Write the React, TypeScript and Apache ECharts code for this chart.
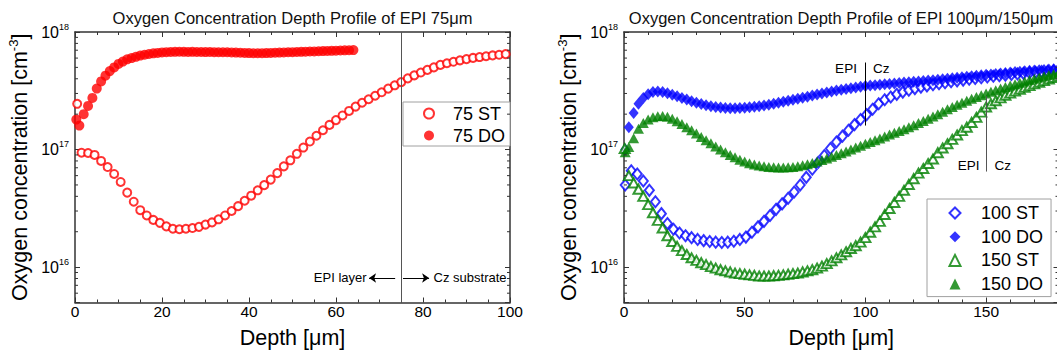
import { useEffect, useRef } from 'react';
import * as echarts from 'echarts';

const FONT = "'Liberation Sans', Arial, sans-serif";
const RED = '#ff0000';
const BLUE = '#0000ff';
const GREEN = '#008000';
const AXIS = '#333333';

const TITLE_LEFT = 'Oxygen Concentration Depth Profile of EPI 75μm';
const TITLE_RIGHT = 'Oxygen Concentration Depth Profile of EPI 100μm/150μm';
const X_NAME = 'Depth [μm]';
const Y_NAME = '{a|Oxygen concentration [cm}{s|-3}{a|]}';
const LEGEND_LEFT = ['75 ST', '75 DO'];
const LEGEND_RIGHT = ['100 ST', '100 DO', '150 ST', '150 DO'];

const Y_MIN = 5e15;
const Y_MAX = 1e18;
const X_LEFT_MAX = 100;
const X_RIGHT_MAX = 180;
const MINOR_TICKS = [
  6e15, 7e15, 8e15, 9e15,
  2e16, 3e16, 4e16, 5e16, 6e16, 7e16, 8e16, 9e16,
  2e17, 3e17, 4e17, 5e17, 6e17, 7e17, 8e17, 9e17,
];

// ---- 75 µm EPI (depth µm, concentration cm^-3)
const ST75: [number, number][] = [
  [0.5, 2.45e17], [1.5, 9.4e16], [3, 9.35e16], [4.5, 9.0e16], [6, 8.0e16], [7.5, 7.1e16],
  [9, 6.2e16], [10.5, 5.3e16], [12, 4.3e16], [13.5, 3.6e16], [15, 3.05e16], [16.5, 2.75e16],
  [18, 2.52e16], [19.5, 2.38e16], [21, 2.22e16], [22.5, 2.12e16], [24, 2.1e16], [25.5, 2.12e16],
  [27, 2.15e16], [28.5, 2.2e16], [30, 2.3e16], [31.5, 2.4e16], [33, 2.55e16], [34.5, 2.75e16],
  [36, 3.0e16], [37.5, 3.3e16], [39, 3.67e16], [40.5, 4.05e16], [42, 4.5e16], [43.5, 4.98e16],
  [45, 5.55e16], [46.5, 6.3e16], [48, 7.2e16], [49.5, 8.1e16], [51, 9.2e16], [52.5, 1.04e17],
  [54, 1.17e17], [55.5, 1.31e17], [57, 1.46e17], [58.5, 1.62e17], [60, 1.78e17], [61.5, 1.95e17],
  [63, 2.13e17], [64.5, 2.32e17], [66, 2.5e17], [67.5, 2.68e17], [69, 2.87e17], [70.5, 3.07e17],
  [72, 3.3e17], [73.5, 3.52e17], [75, 3.75e17], [76.5, 4.03e17], [78, 4.28e17], [79.5, 4.52e17],
  [81, 4.76e17], [82.5, 5.0e17], [84, 5.25e17], [85.5, 5.42e17], [87, 5.58e17], [88.5, 5.74e17],
  [90, 5.88e17], [91.5, 6.02e17], [93, 6.12e17], [94.5, 6.22e17], [96, 6.32e17], [97.5, 6.4e17],
  [99, 6.48e17],
];
const DO75: [number, number][] = [
  [0.3, 1.8e17], [1, 1.6e17], [2, 2.0e17], [3, 2.35e17], [4, 2.75e17], [5, 3.3e17], [6, 3.8e17],
  [7, 4.25e17], [8, 4.65e17], [9, 5.0e17], [10, 5.35e17], [11, 5.6e17], [12, 5.85e17], [13, 6.0e17],
  [14, 6.15e17], [15, 6.3e17], [16, 6.4e17], [17, 6.5e17], [18, 6.58e17], [19, 6.64e17], [20, 6.7e17],
  [21, 6.74e17], [22, 6.76e17], [23, 6.78e17], [24, 6.79e17], [25, 6.78e17], [26, 6.77e17],
  [27, 6.78e17], [28, 6.76e17], [29, 6.76e17], [30, 6.75e17], [31, 6.76e17], [32, 6.74e17],
  [33, 6.73e17], [34, 6.72e17], [35, 6.72e17], [36, 6.7e17], [37, 6.68e17], [38, 6.66e17],
  [39, 6.64e17], [40, 6.62e17], [41, 6.6e17], [42, 6.6e17], [43, 6.61e17], [44, 6.62e17],
  [45, 6.64e17], [46, 6.66e17], [47, 6.68e17], [48, 6.7e17], [49, 6.72e17], [50, 6.74e17],
  [51, 6.76e17], [52, 6.78e17], [53, 6.8e17], [54, 6.82e17], [55, 6.84e17], [56, 6.86e17],
  [57, 6.88e17], [58, 6.9e17], [59, 6.92e17], [60, 6.94e17], [61, 6.96e17], [62, 6.98e17],
  [63, 7.0e17], [64, 7.02e17],
];

// ---- 100 µm / 150 µm EPI
const ST100: [number, number][] = [
  [0.5, 5.0e16], [3, 6.6e16], [5.5, 6.2e16], [8, 5.4e16], [10.5, 4.5e16], [13, 3.6e16],
  [15.5, 2.85e16], [18, 2.35e16], [20.5, 2.1e16], [23, 1.95e16], [25.5, 1.85e16], [28, 1.78e16],
  [30.5, 1.72e16], [33, 1.68e16], [35.5, 1.65e16], [38, 1.63e16], [40.5, 1.62e16], [43, 1.63e16],
  [45.5, 1.66e16], [48, 1.72e16], [50.5, 1.8e16], [53, 1.98e16], [55.5, 2.2e16], [58, 2.45e16],
  [60.5, 2.75e16], [63, 3.1e16], [65.5, 3.45e16], [68, 3.85e16], [70.5, 4.35e16], [73, 5.0e16],
  [75.5, 5.8e16], [78, 6.8e16], [80.5, 7.8e16], [83, 8.9e16], [85.5, 1.02e17], [88, 1.16e17],
  [90.5, 1.3e17], [93, 1.46e17], [95.5, 1.63e17], [98, 1.8e17], [100.5, 1.98e17], [103, 2.2e17],
  [105.5, 2.45e17], [108, 2.65e17], [110.5, 2.8e17], [113, 2.95e17], [115.5, 3.08e17],
  [118, 3.2e17], [120.5, 3.3e17], [123, 3.4e17], [125.5, 3.48e17], [128, 3.56e17],
  [130.5, 3.63e17], [133, 3.7e17], [135.5, 3.77e17], [138, 3.84e17], [140.5, 3.9e17],
  [143, 3.96e17], [145.5, 4.02e17], [148, 4.08e17], [150.5, 4.14e17], [153, 4.2e17],
  [155.5, 4.25e17], [158, 4.3e17], [160.5, 4.35e17], [163, 4.4e17], [165.5, 4.45e17],
  [168, 4.5e17], [170.5, 4.55e17], [173, 4.6e17], [175.5, 4.64e17], [178, 4.68e17],
];
const DO100: [number, number][] = [
  [0.5, 1.0e17], [2, 1.55e17], [4, 2.05e17], [6, 2.45e17], [8, 2.75e17], [10, 2.95e17],
  [12, 3.08e17], [14, 3.12e17], [16, 3.08e17], [18, 3.02e17], [20, 2.93e17], [22, 2.84e17],
  [24, 2.75e17], [26, 2.66e17], [28, 2.58e17], [30, 2.5e17], [32, 2.44e17], [34, 2.38e17],
  [36, 2.34e17], [38, 2.3e17], [40, 2.28e17], [42, 2.26e17], [44, 2.25e17], [46, 2.25e17],
  [48, 2.26e17], [50, 2.27e17], [52, 2.29e17], [54, 2.31e17], [56, 2.34e17], [58, 2.37e17],
  [60, 2.41e17], [62, 2.45e17], [64, 2.5e17], [66, 2.55e17], [68, 2.6e17], [70, 2.65e17],
  [72, 2.7e17], [74, 2.76e17], [76, 2.82e17], [78, 2.88e17], [80, 2.94e17], [82, 3.0e17],
  [84, 3.06e17], [86, 3.12e17], [88, 3.18e17], [90, 3.23e17], [92, 3.28e17], [94, 3.33e17],
  [96, 3.38e17], [98, 3.43e17], [100, 3.47e17], [102, 3.5e17], [104, 3.53e17], [106, 3.56e17],
  [108, 3.59e17], [110, 3.62e17], [112, 3.65e17], [114, 3.68e17], [116, 3.71e17], [118, 3.74e17],
  [120, 3.77e17], [122, 3.8e17], [124, 3.83e17], [126, 3.86e17], [128, 3.89e17], [130, 3.92e17],
  [132, 3.96e17], [134, 4.0e17], [136, 4.04e17], [138, 4.08e17], [140, 4.12e17], [142, 4.16e17],
  [144, 4.2e17], [146, 4.24e17], [148, 4.28e17], [150, 4.32e17], [152, 4.36e17], [154, 4.4e17],
  [156, 4.44e17], [158, 4.48e17], [160, 4.52e17], [162, 4.56e17], [164, 4.6e17], [166, 4.64e17],
  [168, 4.67e17], [170, 4.7e17], [172, 4.73e17], [174, 4.76e17], [176, 4.79e17], [178, 4.82e17],
  [180, 4.85e17],
];
const ST150: [number, number][] = [
  [0.3, 1.02e17], [2, 6.0e16], [4, 5.2e16], [6, 4.6e16], [8, 4.0e16], [10, 3.4e16], [12, 2.9e16],
  [14, 2.5e16], [16, 2.15e16], [18, 1.85e16], [20, 1.65e16], [22, 1.5e16], [24, 1.38e16],
  [26, 1.28e16], [28, 1.2e16], [30, 1.14e16], [32, 1.09e16], [34, 1.05e16], [36, 1.01e16],
  [38, 9.8e15], [40, 9.5e15], [42, 9.3e15], [44, 9.1e15], [46, 8.9e15], [48, 8.8e15], [50, 8.7e15],
  [52, 8.6e15], [54, 8.5e15], [56, 8.4e15], [58, 8.4e15], [60, 8.4e15], [62, 8.45e15], [64, 8.5e15],
  [66, 8.6e15], [68, 8.7e15], [70, 8.8e15], [72, 8.9e15], [74, 9.1e15], [76, 9.3e15], [78, 9.5e15],
  [80, 9.8e15], [82, 1.02e16], [84, 1.07e16], [86, 1.13e16], [88, 1.2e16], [90, 1.27e16],
  [92, 1.35e16], [94, 1.44e16], [96, 1.52e16], [98, 1.63e16], [100, 1.78e16], [102, 1.98e16],
  [104, 2.2e16], [106, 2.45e16], [108, 2.8e16], [110, 3.15e16], [112, 3.55e16], [114, 4.0e16],
  [116, 4.5e16], [118, 5.05e16], [120, 5.65e16], [122, 6.3e16], [124, 6.9e16], [126, 7.6e16],
  [128, 8.3e16], [130, 9.4e16], [132, 1.03e17], [134, 1.12e17], [136, 1.22e17], [138, 1.33e17],
  [140, 1.45e17], [142, 1.55e17], [144, 1.7e17], [146, 1.88e17], [148, 2.08e17], [150, 2.3e17],
  [152, 2.45e17], [154, 2.6e17], [156, 2.75e17], [158, 2.9e17], [160, 3.02e17], [162, 3.14e17],
  [164, 3.26e17], [166, 3.38e17], [168, 3.5e17], [170, 3.62e17], [172, 3.74e17], [174, 3.86e17],
  [176, 3.98e17], [178, 4.1e17], [180, 4.25e17],
];
const DO150: [number, number][] = [
  [0.5, 9.5e16], [2, 1.05e17], [4, 1.25e17], [6, 1.5e17], [8, 1.68e17], [10, 1.8e17], [12, 1.88e17],
  [14, 1.92e17], [16, 1.93e17], [18, 1.9e17], [20, 1.83e17], [22, 1.74e17], [24, 1.65e17],
  [26, 1.55e17], [28, 1.46e17], [30, 1.37e17], [32, 1.28e17], [34, 1.2e17], [36, 1.13e17],
  [38, 1.06e17], [40, 1.0e17], [42, 9.5e16], [44, 9.0e16], [46, 8.6e16], [48, 8.2e16], [50, 7.9e16],
  [52, 7.65e16], [54, 7.45e16], [56, 7.3e16], [58, 7.2e16], [60, 7.12e16], [62, 7.08e16],
  [64, 7.05e16], [66, 7.05e16], [68, 7.08e16], [70, 7.12e16], [72, 7.2e16], [74, 7.35e16],
  [76, 7.5e16], [78, 7.7e16], [80, 7.9e16], [82, 8.15e16], [84, 8.4e16], [86, 8.7e16], [88, 9.0e16],
  [90, 9.3e16], [92, 9.65e16], [94, 1.0e17], [96, 1.04e17], [98, 1.08e17], [100, 1.12e17],
  [102, 1.16e17], [104, 1.2e17], [106, 1.24e17], [108, 1.29e17], [110, 1.34e17], [112, 1.39e17],
  [114, 1.44e17], [116, 1.49e17], [118, 1.55e17], [120, 1.61e17], [122, 1.68e17], [124, 1.75e17],
  [126, 1.83e17], [128, 1.91e17], [130, 2.0e17], [132, 2.1e17], [134, 2.2e17], [136, 2.3e17],
  [138, 2.4e17], [140, 2.5e17], [142, 2.6e17], [144, 2.7e17], [146, 2.8e17], [148, 2.9e17],
  [150, 3.0e17], [152, 3.1e17], [154, 3.2e17], [156, 3.3e17], [158, 3.4e17], [160, 3.5e17],
  [162, 3.6e17], [164, 3.7e17], [166, 3.8e17], [168, 3.9e17], [170, 4.0e17], [172, 4.1e17],
  [174, 4.2e17], [176, 4.3e17], [178, 4.4e17], [180, 4.5e17],
];

// ---- annotations (data coordinates)
const EPI_BOUNDARY_75 = 75;
const ARROW_Y = 8.08e15;
const EPI_LAYER_ARROW: [number, number][] = [[73.6, ARROW_Y], [67.6, ARROW_Y]];
const CZ_ARROW: [number, number][] = [[75.4, ARROW_Y], [81.4, ARROW_Y]];
const BOUNDARY_100: [number, number][] = [[100, 1.6e17], [100, 5.5e17]];
const BOUNDARY_150: [number, number][] = [[150, 6.5e16], [150, 2.84e17]];
const LABEL_100_Y = 4.9e17;
const LABEL_150_Y = 7.3e16;

const logLabel = (v: number) => {
  const e = Math.log10(v);
  const r = Math.round(e);
  if (Math.abs(e - r) > 1e-6) return '';
  return `{b|10}{s|${r}}`;
};

const yLabelRich = {
  b: { fontSize: 16, lineHeight: 20, color: '#000', fontFamily: FONT },
  s: { fontSize: 9, verticalAlign: 'top', color: '#000', fontFamily: FONT },
};
const yNameStyle = {
  color: '#000',
  fontFamily: FONT,
  rich: {
    a: { fontSize: 21.5, lineHeight: 26, color: '#000', fontFamily: FONT },
    s: { fontSize: 13, verticalAlign: 'top', color: '#000', fontFamily: FONT },
  },
};

const axisLine = { show: true, onZero: false, lineStyle: { color: AXIS, width: 1.5 } };

function xAxisDef(grid: number, max: number, interval: number, opts: any) {
  return {
    type: 'value',
    gridIndex: grid,
    min: 0,
    max,
    interval,
    splitLine: { show: false },
    axisLine,
    axisTick: { show: true, inside: true, length: 5, lineStyle: { color: AXIS, width: 1 } },
    axisLabel: { show: false },
    ...opts,
  };
}

function yAxisDef(grid: number, position: 'left' | 'right', labelled: boolean) {
  return {
    type: 'log',
    logBase: 10,
    gridIndex: grid,
    position,
    min: Y_MIN,
    max: Y_MAX,
    splitLine: { show: false },
    axisLine,
    axisTick: { show: true, inside: true, length: 5, lineStyle: { color: AXIS, width: 1 } },
    axisLabel: labelled
      ? { show: true, margin: 6, formatter: logLabel, rich: yLabelRich }
      : { show: false },
    ...(labelled
      ? { name: Y_NAME, nameLocation: 'middle', nameGap: 42, nameRotate: 90, nameTextStyle: yNameStyle }
      : {}),
  };
}

function minorTickSeries(xAxisIndex: number, yAxisIndex: number, xMax: number) {
  return {
    type: 'custom',
    xAxisIndex,
    yAxisIndex,
    silent: true,
    clip: false,
    z: 10,
    data: MINOR_TICKS.map((v) => [0, v]),
    renderItem: (_p: any, api: any) => {
      const v = api.value(1);
      const a = api.coord([0, v]);
      const b = api.coord([xMax, v]);
      const style = { stroke: AXIS, lineWidth: 1 };
      return {
        type: 'group',
        children: [
          { type: 'line', shape: { x1: a[0], y1: a[1], x2: a[0] + 3, y2: a[1] }, style },
          { type: 'line', shape: { x1: b[0] - 3, y1: b[1], x2: b[0], y2: b[1] }, style },
        ],
      };
    },
  };
}

const textPoint = (name: string, coord: [number, number], position: string, distance: number, fontSize: number) => ({
  name,
  coord,
  label: { show: true, position, distance, formatter: name, color: '#000', fontSize, fontFamily: FONT },
});

export default function App() {
  const ref = useRef<HTMLDivElement>(null);

  useEffect(() => {
    if (!ref.current) return;
    const chart = echarts.init(ref.current, undefined, { renderer: 'svg' });

    const legendCommon = {
      orient: 'vertical',
      selectedMode: false,
      borderColor: '#a0a0a0',
      borderWidth: 1,
      borderRadius: 0,
      backgroundColor: '#fff',
    };

    const option: any = {
      animation: false,
      backgroundColor: '#fff',
      textStyle: { fontFamily: FONT },
      title: [
        {
          text: TITLE_LEFT, left: 292.5, top: 9, textAlign: 'center', padding: 0,
          textStyle: { fontSize: 16.5, fontWeight: 'normal', color: '#111', fontFamily: FONT },
        },
        {
          text: TITLE_RIGHT, left: 841, top: 9, textAlign: 'center', padding: 0,
          textStyle: { fontSize: 16.5, fontWeight: 'normal', color: '#111', fontFamily: FONT },
        },
      ],
      grid: [
        { left: 75, top: 32, width: 435, height: 270.5, containLabel: false, outerBoundsMode: 'none' },
        { left: 624, top: 32, width: 434.5, height: 270.5, containLabel: false, outerBoundsMode: 'none' },
      ],
      legend: [
        {
          ...legendCommon,
          data: LEGEND_LEFT,
          left: 403,
          top: 102,
          padding: [2, 5, 1, 20],
          itemWidth: 10,
          itemHeight: 10,
          itemGap: 3,
          textStyle: { fontSize: 18, lineHeight: 19, color: '#000', fontFamily: FONT, padding: [0, 0, 0, 14] },
        },
        {
          ...legendCommon,
          data: LEGEND_RIGHT,
          left: 927,
          top: 199,
          padding: [4.5, 8, 3, 21.5],
          itemWidth: 11,
          itemHeight: 11,
          itemGap: 4.7,
          textStyle: { fontSize: 18, lineHeight: 19, color: '#000', fontFamily: FONT, padding: [0, 0, 0, 15.5] },
        },
      ],
      xAxis: [
        xAxisDef(0, X_LEFT_MAX, 20, {
          position: 'bottom',
          minorTick: { show: true, splitNumber: 4, length: 3, lineStyle: { color: AXIS, width: 1 } },
          axisLabel: { show: true, fontSize: 15.5, margin: 1, color: '#000', fontFamily: FONT },
          name: X_NAME, nameLocation: 'middle', nameGap: 24,
          nameTextStyle: { fontSize: 21.5, color: '#000', fontFamily: FONT },
        }),
        xAxisDef(0, X_LEFT_MAX, 20, {
          position: 'top',
          minorTick: { show: true, splitNumber: 4, length: 3, lineStyle: { color: AXIS, width: 1 } },
        }),
        xAxisDef(1, X_RIGHT_MAX, 50, {
          position: 'bottom',
          axisLabel: {
            show: true, fontSize: 15.5, margin: 1, color: '#000', fontFamily: FONT,
            formatter: (v: number) => (v % 50 === 0 ? String(v) : ''),
          },
          name: X_NAME, nameLocation: 'middle', nameGap: 24,
          nameTextStyle: { fontSize: 21.5, color: '#000', fontFamily: FONT },
        }),
        xAxisDef(1, X_RIGHT_MAX, 10, {
          position: 'bottom',
          axisLine: { show: false, onZero: false },
          axisTick: { show: true, inside: true, length: 3, lineStyle: { color: AXIS, width: 1 } },
        }),
        xAxisDef(1, X_RIGHT_MAX, 50, { position: 'top' }),
        xAxisDef(1, X_RIGHT_MAX, 10, {
          position: 'top',
          axisLine: { show: false, onZero: false },
          axisTick: { show: true, inside: true, length: 3, lineStyle: { color: AXIS, width: 1 } },
        }),
      ],
      yAxis: [
        yAxisDef(0, 'left', true),
        yAxisDef(0, 'right', false),
        yAxisDef(1, 'left', true),
        yAxisDef(1, 'right', false),
      ],
      series: [
        {
          name: '75 ST', type: 'scatter', xAxisIndex: 0, yAxisIndex: 0, data: ST75,
          symbol: 'emptyCircle', symbolSize: 8,
          itemStyle: { color: RED, borderColor: RED, borderWidth: 1.2 },
          markLine: {
            silent: true,
            symbol: ['none', 'none'],
            label: { show: false },
            lineStyle: { color: '#555', width: 1, type: 'solid' },
            data: [
              { xAxis: EPI_BOUNDARY_75 },
              [
                { coord: EPI_LAYER_ARROW[0], symbol: 'none', lineStyle: { color: '#000', width: 1 } },
                { coord: EPI_LAYER_ARROW[1], symbol: 'arrow', symbolSize: 7 },
              ],
              [
                { coord: CZ_ARROW[0], symbol: 'none', lineStyle: { color: '#000', width: 1 } },
                { coord: CZ_ARROW[1], symbol: 'arrow', symbolSize: 7 },
              ],
            ],
          },
          markPoint: {
            silent: true,
            symbol: 'rect',
            symbolSize: 1,
            itemStyle: { color: 'rgba(0,0,0,0)' },
            data: [
              textPoint('EPI layer', [EPI_LAYER_ARROW[1][0], ARROW_Y], 'left', 2, 13),
              textPoint('Cz substrate', [CZ_ARROW[1][0], ARROW_Y], 'right', 4, 13),
            ],
          },
        },
        {
          name: '75 DO', type: 'scatter', xAxisIndex: 0, yAxisIndex: 0, data: DO75,
          symbol: 'circle', symbolSize: 10, itemStyle: { color: RED },
        },
        minorTickSeries(0, 0, X_LEFT_MAX),
        {
          name: '100 ST', type: 'scatter', xAxisIndex: 2, yAxisIndex: 2, data: ST100,
          symbol: 'emptyDiamond', symbolSize: [9, 11],
          itemStyle: { color: BLUE, borderColor: BLUE, borderWidth: 1.2 },
        },
        {
          name: '100 DO', type: 'scatter', xAxisIndex: 2, yAxisIndex: 2, data: DO100,
          symbol: 'diamond', symbolSize: [10, 12], itemStyle: { color: BLUE },
        },
        {
          name: '150 ST', type: 'scatter', xAxisIndex: 2, yAxisIndex: 2, data: ST150,
          symbol: 'emptyTriangle', symbolSize: [10, 9],
          itemStyle: { color: GREEN, borderColor: GREEN, borderWidth: 1.2 },
        },
        {
          name: '150 DO', type: 'scatter', xAxisIndex: 2, yAxisIndex: 2, data: DO150,
          symbol: 'triangle', symbolSize: [11, 10], itemStyle: { color: GREEN },
          markLine: {
            silent: true,
            symbol: ['none', 'none'],
            label: { show: false },
            data: [
              [
                { coord: BOUNDARY_100[0], lineStyle: { color: '#000', width: 1, type: 'solid' } },
                { coord: BOUNDARY_100[1] },
              ],
              [
                { coord: BOUNDARY_150[0], lineStyle: { color: '#555', width: 1, type: 'solid' } },
                { coord: BOUNDARY_150[1] },
              ],
            ],
          },
          markPoint: {
            silent: true,
            symbol: 'rect',
            symbolSize: 1,
            itemStyle: { color: 'rgba(0,0,0,0)' },
            data: [
              textPoint('EPI', [100, LABEL_100_Y], 'left', 8, 13.5),
              textPoint('Cz', [100, LABEL_100_Y], 'right', 7, 13.5),
              textPoint('EPI', [150, LABEL_150_Y], 'left', 6, 13.5),
              textPoint('Cz', [150, LABEL_150_Y], 'right', 8, 13.5),
            ],
          },
        },
        minorTickSeries(2, 2, X_RIGHT_MAX),
      ],
    };

    chart.setOption(option);
    return () => chart.dispose();
  }, []);

  return (
    <div
      ref={ref}
      style={{ position: 'fixed', left: 0, top: 0, width: 1057, height: 358, background: '#fff' }}
    />
  );
}
